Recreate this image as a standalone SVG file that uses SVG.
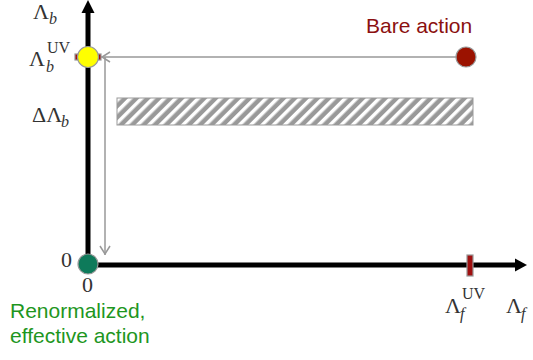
<svg xmlns="http://www.w3.org/2000/svg" width="533" height="360" viewBox="0 0 533 360">
<defs>
<style>
.m{font-family:"Liberation Serif","DejaVu Serif",serif;font-size:22px;fill:#333}
.s{font-family:"Liberation Serif","DejaVu Serif",serif;font-size:16px;fill:#333}
.i{font-style:italic}
.lbl{font-family:"Liberation Sans",Arial,sans-serif;font-size:21px}
.axis{stroke:#000;stroke-width:5;fill:none}
.conn{stroke:#999;stroke-width:1.5;fill:none}
.node{stroke:#999;stroke-width:1.2}
</style>
<pattern id="hatch" width="8" height="8" patternUnits="userSpaceOnUse" patternTransform="rotate(45)">
<rect width="8" height="8" fill="#999"/>
<rect width="3.5" height="8" fill="#fff"/>
</pattern>
<marker id="chev" viewBox="0 0 10 12" refX="10" refY="6" markerWidth="10" markerHeight="12" markerUnits="userSpaceOnUse" orient="auto">
<path d="M1,1 L9,6 L1,11" fill="none" stroke="#999" stroke-width="1.5"/>
</marker>
</defs>
<g id="axes">
<line class="axis" x1="88" y1="10" x2="88" y2="265"/>
<polygon points="81.5,13 88,0 94.5,13" fill="#000"/>
<line class="axis" x1="86" y1="265" x2="517" y2="265"/>
<polygon points="515,258.5 527,265 515,271.5" fill="#000"/>
</g>
<g id="connectors">
<line class="conn" x1="456" y1="57" x2="101" y2="57" marker-end="url(#chev)"/>
<line class="conn" x1="105" y1="57" x2="105" y2="255" marker-end="url(#chev)"/>
</g>
<g id="band">
<rect x="117" y="98" width="356" height="27" fill="url(#hatch)" stroke="#999" stroke-width="1"/>
</g>
<g id="bare">
<circle class="node" cx="466" cy="57" r="10" fill="#9b1200"/>
<text class="lbl" x="366" y="33" fill="#8b1010">Bare action</text>
</g>
<g id="uv-point">
<rect class="node" x="75" y="54" width="26" height="6" fill="#a01010"/>
<circle class="node" cx="88" cy="57" r="10.5" fill="#ffff00"/>
</g>
<g id="renormalized">
<circle class="node" cx="88" cy="264" r="10" fill="#0e7a5a"/>
<text class="lbl" x="10" y="318" fill="#1e961e">Renormalized,</text>
<text class="lbl" x="10" y="343" fill="#1e961e">effective action</text>
</g>
<g id="f-cutoff">
<rect class="node" x="467" y="255" width="6" height="21" fill="#a01010"/>
</g>
<g id="labels">
<text class="m" x="33" y="19">Λ</text><text class="s i" x="49" y="24">b</text>
<text class="m" x="29" y="66">Λ</text><text class="s" x="47" y="53">UV</text><text class="s i" x="46" y="72">b</text>
<text class="m" x="32" y="122">ΔΛ</text><text class="s i" x="61" y="127">b</text>
<text class="m" x="61" y="267">0</text>
<text class="m" x="82" y="292">0</text>
<text class="m" x="445" y="313">Λ</text><text class="s" x="462" y="299">UV</text><text class="s i" x="460" y="319">f</text>
<text class="m" x="506" y="313">Λ</text><text class="s i" x="521" y="319">f</text>
</g>
</svg>
